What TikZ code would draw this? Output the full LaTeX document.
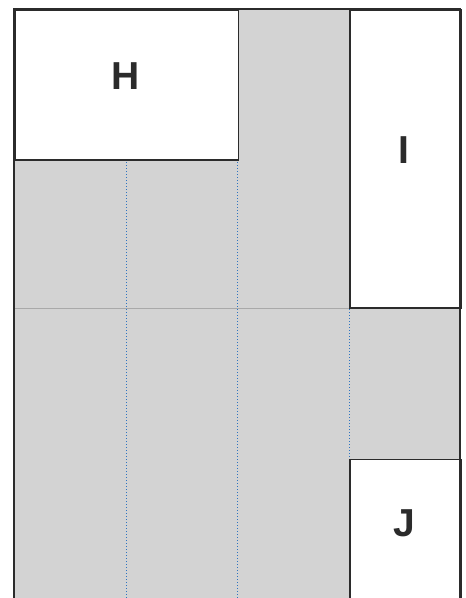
\documentclass[tikz,border=0pt]{standalone}
\usepackage{fontspec}
\setmainfont{Liberation Sans}
\definecolor{cellgray}{HTML}{D3D3D3}
\definecolor{gridgray}{HTML}{A9A9A9}
\definecolor{gridblue}{HTML}{2F74C0}
\definecolor{darkline}{HTML}{2B2B2B}
\tikzset{
  roombox/.style={draw=darkline, line width=1.5pt, fill=white, inner sep=0pt, anchor=north west},
  roomlabel/.style={font=\fontsize{39}{39}\selectfont\bfseries, text=darkline, inner sep=0pt},
  bluedot/.style={draw=gridblue, line width=1pt, dash pattern=on 1pt off 2pt},
  frameline/.style={draw=darkline, line width=2.5pt},
}
\begin{document}
\begin{tikzpicture}[x=1pt, y=-1pt]
\useasboundingbox (0,0) rectangle (466,598);
\begin{scope}
\clip (0,0) rectangle (466,598);
% gray background of the grid
\fill[cellgray] (14,9) rectangle (460,607.5);
% horizontal grid line
\draw[gridgray, line width=1pt] (14,308) -- (460,308);
% vertical dotted grid lines
\coordinate (v1t) at (126,9);   \coordinate (v1b) at (126,607.5);
\coordinate (v2t) at (237.5,9); \coordinate (v2b) at (237.5,607.5);
\coordinate (v3t) at (349,9);   \coordinate (v3b) at (349,607.5);
\draw[bluedot] (v1t) -- (v1b);
\draw[bluedot] (v2t) -- (v2b);
\draw[bluedot] (v3t) -- (v3b);
% rooms
\node[roombox, minimum width=223.5pt, minimum height=150pt] (H) at (14,9) {};
\node[roomlabel] (Hl) at (125.5,76) {H};
\node[roombox, minimum width=111pt, minimum height=298pt] (I) at (349,9) {};
\node[roomlabel] (Il) at (404,150) {I};
\node[roombox, minimum width=111pt, minimum height=149.5pt] (J) at (349,458.5) {};
\node[roomlabel] (Jl) at (404,523) {J};
% outer frame
\coordinate (fbl) at (14,610);
\coordinate (ftl) at (14,9);
\coordinate (ftr) at (460,9);
\coordinate (fbr) at (460,610);
\draw[frameline, line join=miter] (fbl) -- (ftl) -- (ftr) -- (fbr);
\end{scope}
\end{tikzpicture}
\end{document}
